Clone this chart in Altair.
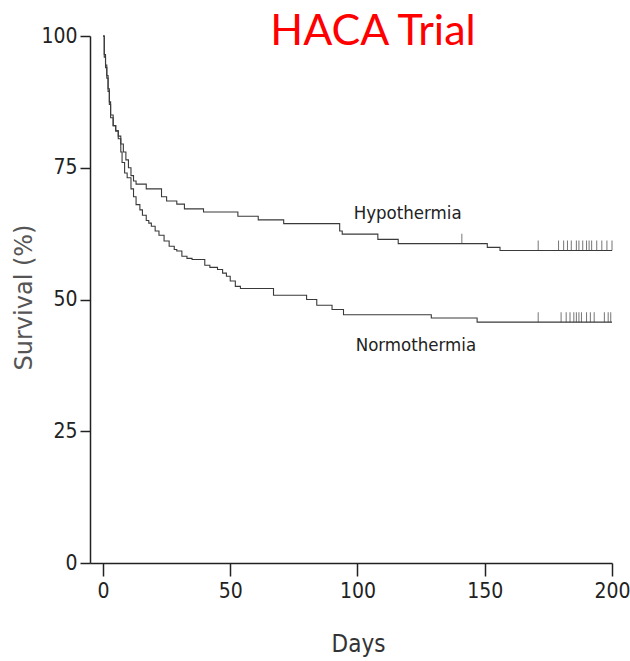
import bisect
import altair as alt
import pandas as pd

# ---- data ----
hypo_days = [0, 0.5, 1, 1.5, 2, 2.5, 3, 4, 5, 6, 7, 8, 9, 10, 11, 12, 13, 17, 23, 25,
             29, 32, 39.5, 53, 61, 71, 93, 94, 108, 116, 151, 156, 200]
hypo_surv = [100, 96.5, 94.5, 92.5, 90, 87.5, 85, 83, 82, 81, 79.5, 78, 76.5, 75, 73.5,
             72.5, 71.9, 71.0, 69.5, 68.7, 68.1, 67.2, 66.6, 65.8, 65.1, 64.4, 63.0, 62.4,
             61.4, 60.6, 59.9, 59.3, 59.3]

norm_days = [0, 0.5, 1, 1.5, 2, 2.5, 3, 4, 5, 6, 7, 7.5, 8.5, 9.5, 11, 12, 13, 14.5, 15.5,
             17, 18, 19, 20.5, 22, 24, 26, 28, 29, 31, 33, 35, 40, 42, 45, 47, 48.5, 50, 52,
             54, 67, 80, 84, 90, 94.5, 129, 147, 200]
norm_surv = [100, 96, 94, 92, 89.5, 87, 84.5, 83, 82, 80.5, 78, 76, 74, 73.1, 71, 69.5, 68,
             67, 66, 65, 64.5, 63.9, 63, 62.2, 61.1, 60.1, 59.5, 59.2, 58.2, 57.8, 57.6, 56.5,
             56.1, 55.7, 55, 54.4, 53.5, 52.5, 52.1, 50.8, 50.0, 48.9, 48.1, 47.1, 46.5, 45.7,
             45.7]

hypo_censor = [141, 171, 179, 181, 182.5, 184, 186, 187, 188.5, 190, 191, 192, 194, 196,
               198, 200]
norm_censor = [171, 180, 182, 183.5, 185, 186, 187, 188, 190, 191.5, 193, 197, 198.5, 199.5]

group_names = ["Hypothermia", "Normothermia"]
label_days = [98.5, 99.3]
label_surv = [65.2, 40.3]

x_ticks = [0, 50, 100, 150, 200]
y_ticks = [0, 25, 50, 75, 100]
title_text = "HACA Trial"


def surv_at(days, surv, d):
    i = bisect.bisect_right(days, d) - 1
    return surv[max(i, 0)]


rows = []
for g, ds, ss in [(group_names[0], hypo_days, hypo_surv), (group_names[1], norm_days, norm_surv)]:
    for i, (d, s) in enumerate(zip(ds, ss)):
        rows.append({"group": g, "day": d, "surv": s, "ord": i})
lines_df = pd.DataFrame(rows)

crow = []
for g, cs, ds, ss in [(group_names[0], hypo_censor, hypo_days, hypo_surv),
                      (group_names[1], norm_censor, norm_days, norm_surv)]:
    for c in cs:
        crow.append({"group": g, "day": c, "surv": surv_at(ds, ss, c)})
cens_df = pd.DataFrame(crow)

labels_df = pd.DataFrame({"group": group_names, "day": label_days, "surv": label_surv})
title_df = pd.DataFrame({"t": [title_text]})

NARROW = "'Liberation Sans Narrow', 'DejaVu Sans Condensed', Roboto, sans-serif"

x_enc = alt.X(
    "day:Q",
    scale=alt.Scale(domain=[-5.1, 200], nice=False, zero=False),
    axis=alt.Axis(
        values=x_ticks, title="Days", grid=False,
        domainColor="#222", domainWidth=1.5, tickColor="#222", tickWidth=1.5,
        tickSize=13, labelPadding=4, labelFont=NARROW, labelFontSize=21,
        labelColor="#222", labelFlush=False,
        titleFont=NARROW, titleFontSize=24, titleFontWeight="normal", titleColor="#333",
        titleX=268, titleY=88, titleBaseline="alphabetic", titleAlign="center",
    ),
)
y_enc = alt.Y(
    "surv:Q",
    scale=alt.Scale(domain=[0, 100], nice=False),
    axis=alt.Axis(
        values=y_ticks, title="Survival (%)", grid=False,
        domainColor="#222", domainWidth=1.5, tickColor="#222", tickWidth=1.5,
        tickSize=10, labelPadding=3, labelFont=NARROW, labelFontSize=21,
        labelColor="#222", labelFlush=False,
        titleFont="DejaVu Sans", titleFontSize=24, titleFontWeight="normal",
        titleColor="#555", titleAngle=-90, titleX=-66, titleY=261,
        titleAlign="center", titleBaseline="middle",
    ),
)

lines = alt.Chart(lines_df).mark_line(
    interpolate="step-after", strokeWidth=1.1, color="#3a3a3a"
).encode(x=x_enc, y=y_enc, detail="group:N", order="ord:Q")

censors = alt.Chart(cens_df).mark_tick(
    orient="vertical", size=10, thickness=1, color="#3a3a3a", yOffset=-5
).encode(x="day:Q", y="surv:Q")

labels = alt.Chart(labels_df).mark_text(
    align="left", baseline="alphabetic", font=NARROW, fontSize=18.5, color="#222"
).encode(x="day:Q", y="surv:Q", text="group:N")

title = alt.Chart(title_df).mark_text(
    align="center", baseline="alphabetic", font="Lato", fontSize=43, color="#ff0000"
).encode(x=alt.value(283), y=alt.value(9), text="t:N")

chart = alt.layer(lines, censors, labels, title).properties(
    width=522, height=527,
    background="white",
    padding={"left": 90, "top": 36, "right": 18, "bottom": 98},
    autosize=alt.AutoSizeParams(type="none"),
).configure_view(stroke=None, strokeWidth=0)

chart.save("out.html", embed_options={"renderer": "svg", "actions": False})
